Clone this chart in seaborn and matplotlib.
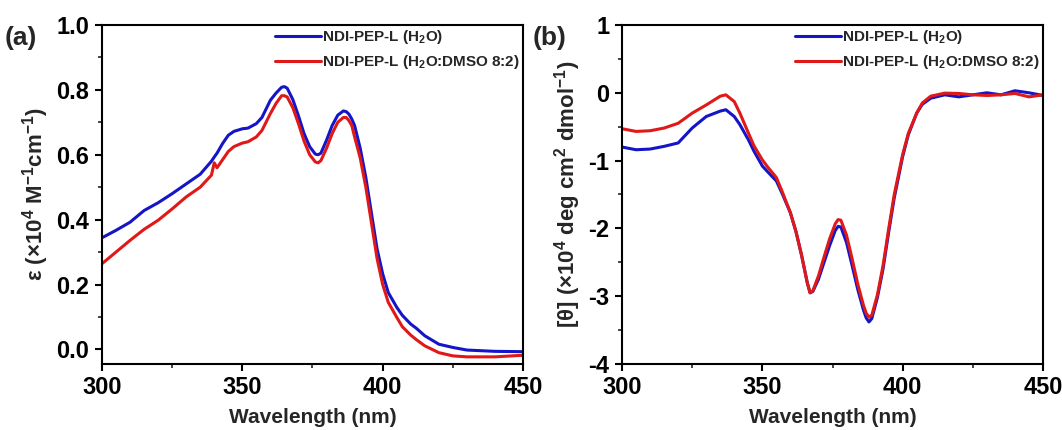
import numpy as np
import pandas as pd
import matplotlib
matplotlib.use("Agg")
import matplotlib.pyplot as plt
import seaborn as sns
from matplotlib.ticker import MultipleLocator

sns.set_theme(style="ticks")
plt.rcParams['font.family'] = ['Liberation Sans', 'DejaVu Sans']
plt.rcParams['font.weight'] = 'bold'
plt.rcParams['axes.labelweight'] = 'bold'
plt.rcParams['mathtext.fontset'] = 'custom'
plt.rcParams['mathtext.rm'] = 'Liberation Sans:bold'
plt.rcParams['mathtext.it'] = 'Liberation Sans:bold'
plt.rcParams['mathtext.bf'] = 'Liberation Sans:bold'
plt.rcParams['mathtext.default'] = 'rm'
plt.rcParams['axes.unicode_minus'] = False

# ---- data: (a) UV-vis absorption ----
wl_abs = [300, 305, 310, 315, 320, 325, 330, 335, 339, 340, 341, 343, 345, 347, 350,
          352, 355, 357, 360, 362, 364, 365, 366, 368, 370, 372, 374, 376, 377, 378,
          380, 382, 384, 386, 387, 388, 389, 390, 392, 394, 396, 398, 400, 402, 405,
          407, 410, 412, 415, 420, 425, 430, 440, 450]
abs_h2o = [0.344, 0.367, 0.392, 0.428, 0.452, 0.480, 0.510, 0.540, 0.580, 0.593,
           0.605, 0.635, 0.660, 0.672, 0.680, 0.682, 0.696, 0.715, 0.768, 0.790,
           0.808, 0.810, 0.805, 0.770, 0.720, 0.665, 0.625, 0.602, 0.600, 0.605,
           0.645, 0.690, 0.722, 0.735, 0.733, 0.725, 0.710, 0.690, 0.620, 0.530,
           0.420, 0.310, 0.233, 0.175, 0.130, 0.105, 0.078, 0.065, 0.042, 0.016,
           0.006, -0.002, -0.006, -0.007]
abs_dmso = [0.264, 0.300, 0.336, 0.370, 0.398, 0.433, 0.470, 0.500, 0.537, 0.575,
            0.560, 0.585, 0.610, 0.625, 0.636, 0.640, 0.655, 0.675, 0.727, 0.758,
            0.782, 0.782, 0.778, 0.745, 0.696, 0.642, 0.600, 0.578, 0.575, 0.582,
            0.620, 0.665, 0.700, 0.715, 0.715, 0.705, 0.690, 0.655, 0.590, 0.500,
            0.390, 0.280, 0.200, 0.145, 0.099, 0.070, 0.044, 0.030, 0.011, -0.010,
            -0.020, -0.023, -0.023, -0.018]

# ---- data: (b) CD spectra ----
wl_cd = [300, 305, 310, 315, 320, 325, 330, 335, 337, 340, 342, 345, 347, 350, 352,
         355, 357, 360, 362, 364, 366, 367, 368, 370, 372, 374, 376, 377, 378, 380,
         382, 384, 386, 387, 388, 389, 391, 393, 395, 397, 400, 402, 405, 407, 410,
         415, 420, 425, 430, 435, 440, 445, 450]
cd_h2o = [-0.80, -0.84, -0.83, -0.79, -0.74, -0.52, -0.35, -0.27, -0.25, -0.35,
          -0.47, -0.69, -0.86, -1.08, -1.17, -1.30, -1.48, -1.77, -2.05, -2.40,
          -2.80, -2.95, -2.93, -2.75, -2.50, -2.25, -2.03, -1.97, -1.98, -2.21,
          -2.55, -2.90, -3.20, -3.32, -3.38, -3.33, -3.02, -2.60, -2.06, -1.55,
          -0.94, -0.62, -0.30, -0.17, -0.08, -0.03, -0.06, -0.03, 0.00, -0.03,
          0.03, 0.00, -0.04]
cd_dmso = [-0.53, -0.57, -0.56, -0.52, -0.45, -0.30, -0.18, -0.05, -0.03, -0.13,
           -0.30, -0.59, -0.78, -0.99, -1.10, -1.25, -1.45, -1.77, -2.05, -2.40,
           -2.80, -2.95, -2.92, -2.70, -2.42, -2.15, -1.93, -1.87, -1.88, -2.10,
           -2.45, -2.82, -3.13, -3.25, -3.31, -3.28, -2.98, -2.55, -2.01, -1.50,
           -0.91, -0.60, -0.30, -0.15, -0.05, -0.005, -0.01, -0.03, -0.04, -0.03,
           -0.01, -0.06, -0.03]

labels = ["NDI-PEP-L (H$_2$O)", "NDI-PEP-L (H$_2$O:DMSO 8:2)"]
colors = ["#1515c8", "#e01818"]

df_abs = pd.concat([
    pd.DataFrame({"wl": wl_abs, "val": abs_h2o, "s": labels[0]}),
    pd.DataFrame({"wl": wl_abs, "val": abs_dmso, "s": labels[1]}),
])
df_cd = pd.concat([
    pd.DataFrame({"wl": wl_cd, "val": cd_h2o, "s": labels[0]}),
    pd.DataFrame({"wl": wl_cd, "val": cd_dmso, "s": labels[1]}),
])

fig = plt.figure(figsize=(10.62, 4.30), dpi=100)
ax1 = fig.add_axes([0.0960, 0.1535, 0.3965, 0.7884])
ax2 = fig.add_axes([0.5857, 0.1535, 0.3964, 0.7884])

pal = dict(zip(labels, colors))
for ax, df in ((ax1, df_abs), (ax2, df_cd)):
    sns.lineplot(data=df, x="wl", y="val", hue="s", palette=pal, ax=ax,
                 linewidth=2.2, sort=False, estimator=None)
    ax.set_xlim(300, 450)
    ax.xaxis.set_major_locator(MultipleLocator(50))
    ax.xaxis.set_minor_locator(MultipleLocator(25))
    ax.set_xlabel("Wavelength (nm)", fontsize=15, fontweight='bold', labelpad=6)
    for s in ax.spines.values():
        s.set_linewidth(1.5)
        s.set_color('black')
    ax.tick_params(which='major', direction='out', length=5, width=1.5, labelsize=17,
                   colors='black', pad=4)
    ax.tick_params(which='minor', direction='out', length=3, width=1.2)
    leg = ax.legend(loc='upper right', bbox_to_anchor=(1.0, 1.0), frameon=False,
                    fontsize=11, handlelength=3.0, handletextpad=0.1,
                    labelspacing=0.45, borderaxespad=0.1, borderpad=0.1)
    for line in leg.get_lines():
        line.set_linewidth(2.2)

ax1.set_ylim(-0.045, 1.0)
ax1.yaxis.set_major_locator(MultipleLocator(0.2))
ax1.yaxis.set_minor_locator(MultipleLocator(0.1))
ax1.set_ylabel("ε (×10$^4$ M$^{-1}$cm$^{-1}$)", fontsize=16, fontweight='bold',
               labelpad=4)

ax2.set_ylim(-4, 1)
ax2.yaxis.set_major_locator(MultipleLocator(1))
ax2.yaxis.set_minor_locator(MultipleLocator(0.5))
ax2.set_ylabel("[θ] (×10$^4$ deg cm$^2$ dmol$^{-1}$)", fontsize=16, fontweight='bold',
               labelpad=4)
for ax in (ax1, ax2):
    for lab in ax.get_xticklabels() + ax.get_yticklabels():
        lab.set_fontweight('bold')

fig.text(0.004, 0.895, "(a)", fontsize=19, fontweight='bold')
fig.text(0.502, 0.895, "(b)", fontsize=19, fontweight='bold')

fig.savefig("out.png", dpi=100)
